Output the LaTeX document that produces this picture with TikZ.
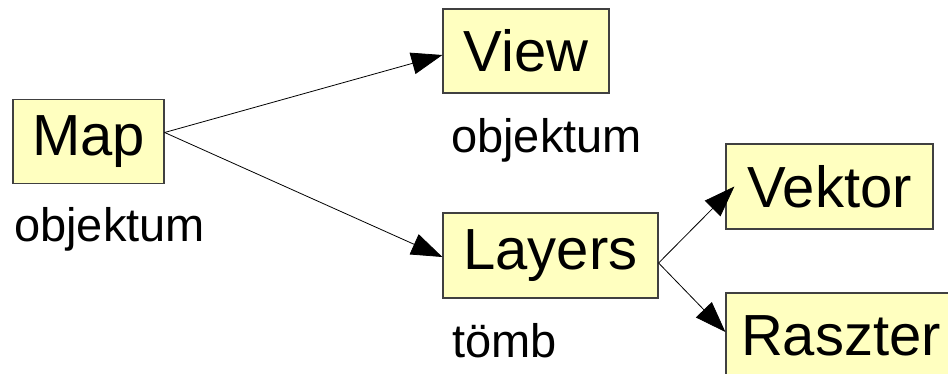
\documentclass[tikz,border=0pt]{standalone}
\usepackage{fontspec}
\setmainfont{Liberation Sans}
\usetikzlibrary{arrows.meta}
\definecolor{boxfill}{HTML}{FFFFC0}
\definecolor{boxline}{HTML}{404040}
\tikzset{
  classbox/.style={draw=boxline, line width=1.2pt, fill=boxfill, inner sep=0pt,
    font=\fontsize{58}{58}\selectfont, anchor=center},
  note/.style={anchor=base west, inner sep=0pt, font=\fontsize{47}{47}\selectfont},
  link/.style={line width=0.8pt, -{Triangle[length=31pt,width=22pt]}}
}
\begin{document}
\begin{tikzpicture}[x=1pt,y=-1pt]
\useasboundingbox (0,0) rectangle (948,374);
\fill[white] (0,0) rectangle (948,374);

% object boxes
\node[classbox, minimum width=151pt, minimum height=84pt] (map) at (88.5,141.5) {Map};
\node[classbox, minimum width=166pt, minimum height=84pt] (view) at (526,51) {View};
\node[classbox, minimum width=215pt, minimum height=85pt] (layers) at (550.5,255.5) {Layers};
\node[classbox, minimum width=207pt, minimum height=85pt] (vektor) at (829.5,186.5) {Vektor};
\node[classbox, minimum width=230pt, minimum height=85pt] (raszter) at (841,335.5) {Raszter};

% type labels
\node[note] (mapnote) at (14,242) {objektum};
\node[note] (viewnote) at (451,153) {objektum};
\node[note] (layersnote) at (452,357) {tömb};

% connectors
\coordinate (mapout) at ([yshift=9pt]map.east);
\coordinate (layersout) at ([yshift=-7.5pt]layers.east);
\draw[link] (mapout) -- ([yshift=-4pt]view.west);
\draw[link] (mapout) -- ([yshift=-1.5pt]layers.west);
\draw[link] (layersout) -- ([xshift=9pt]vektor.west);
\draw[link] (layersout) -- ([yshift=3.5pt]raszter.west);
\end{tikzpicture}
\end{document}
